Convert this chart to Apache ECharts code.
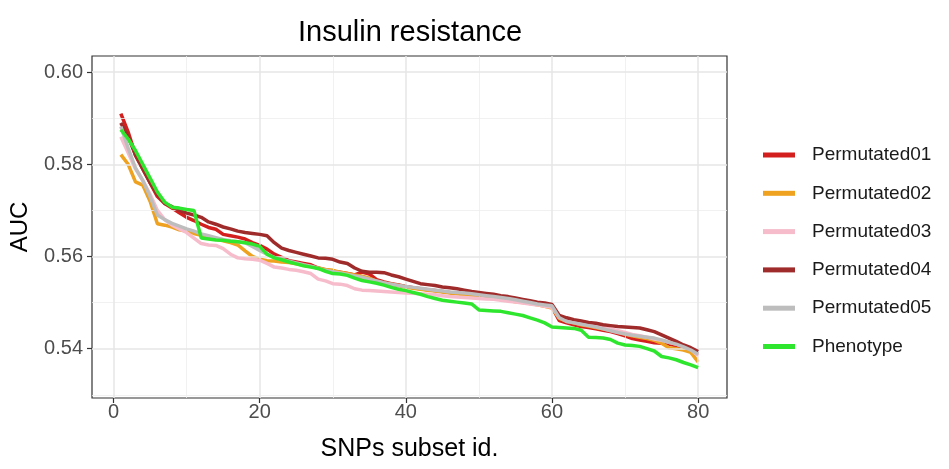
<!DOCTYPE html>
<html>
<head>
<meta charset="utf-8">
<script src="https://cdn.jsdelivr.net/npm/echarts@6/dist/echarts.min.js"></script>
<style>html,body{margin:0;padding:0;background:#fff}#c{width:949px;height:469px}</style>
</head>
<body>
<div id="c"></div>
<script>
const ids = Array.from({length: 80}, (_, i) => i + 1);
const seriesNames = ['Permutated01','Permutated02','Permutated03','Permutated04','Permutated05','Phenotype'];
const xTicks = [0, 20, 40, 60, 80];
const xMinor = [10, 30, 50, 70];
const yTicks = [0.54, 0.56, 0.58, 0.60];
const yMinor = [0.53, 0.55, 0.57, 0.59];

const permutated01 = [0.5910,0.5870,0.5820,0.5790,0.5760,0.5730,0.5715,0.5705,0.5695,0.5685,
0.5678,0.5670,0.5663,0.5659,0.5648,0.5645,0.5642,0.5638,0.5630,0.5624,
0.5616,0.5605,0.5598,0.5591,0.5588,0.5585,0.5582,0.5575,0.5571,0.5568,
0.5566,0.5563,0.5560,0.5566,0.5562,0.5550,0.5545,0.5541,0.5538,0.5535,
0.5532,0.5530,0.5528,0.5526,0.5524,0.5522,0.5520,0.5518,0.5516,0.5514,
0.5512,0.5510,0.5508,0.5506,0.5504,0.5502,0.5500,0.5497,0.5494,0.5490,
0.5461,0.5456,0.5452,0.5448,0.5446,0.5443,0.5440,0.5437,0.5433,0.5428,
0.5422,0.5419,0.5416,0.5413,0.5412,0.5410,0.5406,0.5402,0.5398,0.5389];

const permutated02 = [0.5821,0.5800,0.5762,0.5755,0.5720,0.5671,0.5668,0.5664,0.5658,0.5655,
0.5650,0.5646,0.5642,0.5638,0.5634,0.5630,0.5625,0.5612,0.5600,0.5594,
0.5591,0.5590,0.5588,0.5587,0.5584,0.5581,0.5578,0.5575,0.5572,0.5570,
0.5566,0.5563,0.5560,0.5557,0.5553,0.5546,0.5542,0.5540,0.5537,0.5534,
0.5531,0.5529,0.5527,0.5525,0.5523,0.5521,0.5519,0.5517,0.5515,0.5513,
0.5511,0.5509,0.5507,0.5505,0.5502,0.5500,0.5498,0.5495,0.5492,0.5488,
0.5466,0.5460,0.5456,0.5452,0.5449,0.5446,0.5443,0.5440,0.5436,0.5432,
0.5428,0.5425,0.5422,0.5418,0.5412,0.5402,0.5400,0.5397,0.5392,0.5371];

const permutated03 = [0.5860,0.5825,0.5790,0.5765,0.5735,0.5700,0.5680,0.5668,0.5660,0.5652,
0.5640,0.5628,0.5625,0.5624,0.5617,0.5605,0.5597,0.5595,0.5594,0.5592,
0.5585,0.5577,0.5575,0.5572,0.5570,0.5567,0.5563,0.5551,0.5547,0.5541,
0.5540,0.5537,0.5530,0.5527,0.5526,0.5525,0.5524,0.5523,0.5522,0.5521,
0.5520,0.5519,0.5518,0.5517,0.5515,0.5513,0.5512,0.5511,0.5510,0.5509,
0.5508,0.5507,0.5505,0.5503,0.5501,0.5499,0.5497,0.5495,0.5492,0.5490,
0.5468,0.5462,0.5458,0.5455,0.5452,0.5449,0.5446,0.5443,0.5439,0.5435,
0.5431,0.5428,0.5425,0.5421,0.5418,0.5414,0.5410,0.5405,0.5398,0.5385];

const permutated04 = [0.5890,0.5860,0.5820,0.5790,0.5760,0.5735,0.5715,0.5708,0.5700,0.5694,
0.5690,0.5685,0.5675,0.5670,0.5664,0.5660,0.5655,0.5652,0.5650,0.5648,
0.5645,0.5630,0.5618,0.5613,0.5609,0.5605,0.5601,0.5597,0.5596,0.5594,
0.5588,0.5585,0.5575,0.5568,0.5566,0.5566,0.5565,0.5560,0.5556,0.5551,
0.5546,0.5541,0.5539,0.5537,0.5534,0.5532,0.5530,0.5527,0.5524,0.5522,
0.5520,0.5518,0.5515,0.5513,0.5510,0.5507,0.5504,0.5501,0.5499,0.5496,
0.5472,0.5467,0.5463,0.5460,0.5457,0.5455,0.5452,0.5450,0.5448,0.5447,
0.5446,0.5445,0.5441,0.5437,0.5430,0.5423,0.5416,0.5408,0.5402,0.5394];

const permutated05 = [0.5882,0.5835,0.5792,0.5765,0.5730,0.5690,0.5680,0.5672,0.5666,0.5660,
0.5655,0.5649,0.5645,0.5641,0.5637,0.5634,0.5632,0.5630,0.5622,0.5613,
0.5605,0.5598,0.5594,0.5590,0.5586,0.5582,0.5579,0.5574,0.5570,0.5567,
0.5564,0.5561,0.5558,0.5555,0.5551,0.5547,0.5543,0.5540,0.5537,0.5535,
0.5533,0.5531,0.5529,0.5527,0.5525,0.5523,0.5522,0.5521,0.5519,0.5517,
0.5515,0.5513,0.5511,0.5509,0.5506,0.5503,0.5500,0.5497,0.5495,0.5493,
0.5467,0.5459,0.5456,0.5453,0.5450,0.5447,0.5443,0.5439,0.5435,0.5432,
0.5429,0.5427,0.5425,0.5423,0.5419,0.5414,0.5410,0.5404,0.5397,0.5388];

const phenotype = [0.5875,0.5855,0.5830,0.5800,0.5770,0.5740,0.5718,0.5707,0.5705,0.5702,
0.5700,0.5640,0.5638,0.5636,0.5635,0.5633,0.5632,0.5630,0.5627,0.5622,
0.5605,0.5597,0.5593,0.5588,0.5584,0.5580,0.5577,0.5574,0.5568,0.5563,
0.5562,0.5559,0.5553,0.5548,0.5545,0.5542,0.5538,0.5533,0.5529,0.5526,
0.5522,0.5518,0.5513,0.5509,0.5505,0.5503,0.5501,0.5499,0.5497,0.5484,
0.5483,0.5482,0.5481,0.5478,0.5475,0.5472,0.5467,0.5462,0.5456,0.5447,
0.5446,0.5445,0.5444,0.5440,0.5425,0.5424,0.5423,0.5420,0.5412,0.5408,
0.5407,0.5405,0.5400,0.5395,0.5383,0.5380,0.5376,0.5370,0.5365,0.5359];

const allValues = [permutated01, permutated02, permutated03, permutated04, permutated05, phenotype];
const colors = ['#d41f1f', '#eea21f', '#f7bccb', '#a02b2b', '#bdbdbd', '#2ee62e'];

const FONT = '"Liberation Sans", Arial, sans-serif';
const chart = echarts.init(document.getElementById('c'), null, {renderer: 'canvas'});

const gridLineSeries = {
  type: 'line', name: '_grid', data: [], z: 1, silent: true,
  markLine: {
    silent: true, symbol: 'none', animation: false,
    label: {show: false},
    data: [
      ...yMinor.map(v => ({yAxis: v, lineStyle: {color: '#ededed', width: 0.8, type: 'solid'}})),
      ...xMinor.map(v => ({xAxis: v, lineStyle: {color: '#ededed', width: 0.8, type: 'solid'}})),
      ...yTicks.map(v => ({yAxis: v, lineStyle: {color: '#e6e6e6', width: 1.5, type: 'solid'}})),
      ...xTicks.map(v => ({xAxis: v, lineStyle: {color: '#e6e6e6', width: 1.5, type: 'solid'}}))
    ]
  }
};

const dataSeries = seriesNames.map((name, k) => ({
  type: 'line', name: name, z: 3 + k,
  data: ids.map((id, i) => [id, allValues[k][i]]),
  showSymbol: false, symbol: 'none', smooth: false,
  lineStyle: {color: colors[k], width: 3.5},
  itemStyle: {color: colors[k]},
  emphasis: {disabled: true}
}));

chart.setOption({
  animation: false,
  backgroundColor: '#ffffff',
  title: {
    text: 'Insulin resistance', left: 405, top: 13, textAlign: 'center',
    textStyle: {fontFamily: FONT, fontSize: 29, fontWeight: 'normal', color: '#000'}
  },
  grid: {
    left: 92, right: 222, top: 56, bottom: 71,
    show: true, borderColor: '#333333', borderWidth: 1.2, backgroundColor: '#fff'
  },
  legend: {
    data: seriesNames, orient: 'vertical', left: 763, top: 144, padding: 0,
    icon: 'rect', itemWidth: 32, itemHeight: 5, itemGap: 16.3,
    textStyle: {fontFamily: FONT, fontSize: 19, color: '#1a1a1a', lineHeight: 22, padding: [0, 0, 0, 12]},
    selectedMode: false
  },
  xAxis: {
    type: 'value', min: -2.95, max: 83.95,
    name: 'SNPs subset id.', nameLocation: 'middle', nameGap: 39,
    nameTextStyle: {fontFamily: FONT, fontSize: 25, color: '#000'},
    axisLine: {show: false, onZero: false},
    axisTick: {show: true, inside: false, customValues: xTicks, length: 5, lineStyle: {color: '#333333', width: 1.2}},
    axisLabel: {customValues: xTicks, fontFamily: FONT, fontSize: 20, color: '#4d4d4d', margin: 4},
    splitLine: {show: false}
  },
  yAxis: {
    type: 'value', min: 0.5293, max: 0.6035,
    name: 'AUC', nameLocation: 'middle', nameGap: 60,
    nameTextStyle: {fontFamily: FONT, fontSize: 24, color: '#000'},
    axisLine: {show: false, onZero: false},
    axisTick: {show: true, inside: false, customValues: yTicks, length: 5, lineStyle: {color: '#333333', width: 1.2}},
    axisLabel: {customValues: yTicks, fontFamily: FONT, fontSize: 20, color: '#4d4d4d', margin: 9,
      formatter: v => v.toFixed(2)},
    splitLine: {show: false}
  },
  series: [gridLineSeries, ...dataSeries]
});
</script>
</body>
</html>
